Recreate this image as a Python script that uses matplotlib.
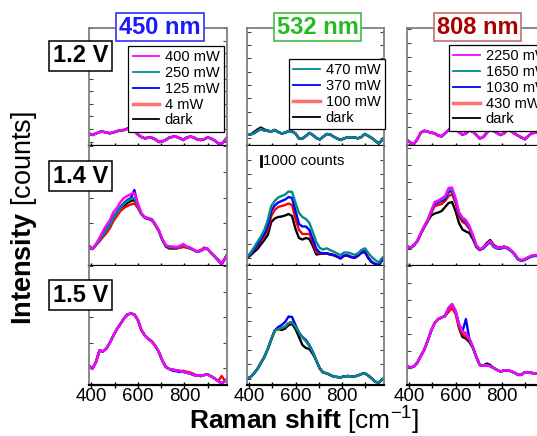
import numpy as np
import matplotlib
matplotlib.use('Agg')
import matplotlib.pyplot as plt
from matplotlib.ticker import FixedLocator

plt.rcParams['font.family'] = ['Liberation Sans', 'DejaVu Sans']
plt.rcParams['mathtext.fontset'] = 'custom'
plt.rcParams['mathtext.rm'] = 'Liberation Sans'
plt.rcParams['mathtext.bf'] = 'Liberation Sans:bold'
plt.rcParams['mathtext.it'] = 'Liberation Sans:italic'

# ---------------- data ----------------
raman_shift = np.arange(390, 991, 15)   # cm^-1 sample positions

lasers = ['450 nm', '532 nm', '808 nm']
voltages = ['1.2 V', '1.4 V', '1.5 V']
powers = {
    '450 nm': ['400 mW', '250 mW', '125 mW', '4 mW', 'dark'],
    '532 nm': ['470 mW', '370 mW', '100 mW', 'dark'],
    '808 nm': ['2250 mW', '1650 mW', '1030 mW', '430 mW', 'dark'],
}
series_colors = {
    '450 nm': ['#ff00ff', '#008b8b', '#0000ff', '#ff0000', '#000000'],
    '532 nm': ['#008b8b', '#0000ff', '#ff0000', '#000000'],
    '808 nm': ['#ff00ff', '#008b8b', '#0000ff', '#ff0000', '#000000'],
}

# 1.2 V (all powers overlap)
r1_450 = [1250,1100,1250,1400,1430,1330,1280,1360,1480,1560,1600,1730,1730,1500,1150,900,770,830,820,670,
          400,450,620,840,920,920,780,600,850,930,870,650,600,680,850,750,550,280,200,600,1000]
r1_532 = [1100,1150,1280,1500,1700,1550,1500,1450,1600,1400,1250,1330,1500,1450,1250,750,750,1000,1300,1100,
          800,650,930,1200,1150,930,750,600,750,870,870,850,770,900,1200,1000,800,530,250,600,1000]
r1_532_dark = [1100,1150,1400,1650,1850,1650,1550,1450,1600,1400,1250,1330,1500,1450,1250,750,750,1000,1300,1100,
               800,650,930,1200,1150,930,750,600,750,870,870,850,770,900,1200,1000,800,530,250,600,1000]
r1_808 = [600,320,200,700,1350,1520,1430,1330,1270,1030,970,1270,1600,1800,1680,1400,1130,1270,1550,1450,
          1100,750,900,1300,1700,1500,1300,1100,1270,1650,1500,1250,1050,850,680,1000,1280,1330,1350,1300,1250]

# 1.4 V
r2_450_400 = [2000,1700,2200,2800,3500,4100,4600,5400,5800,6400,6800,7000,7200,7300,6300,5300,4900,4800,4700,4200,
              3600,2700,2100,1950,1950,1900,2000,2200,1950,1850,1650,1450,1550,1750,1750,1350,1000,600,200,800,1400]
r2_450_250 = [2000,1700,2150,2600,3100,3600,4100,4800,5300,5800,6200,6500,6700,6800,6000,5200,4850,4750,4650,4150,
              3550,2650,2050,1900,1900,1850,1950,2100,1900,1800,1600,1450,1550,1750,1700,1300,950,600,220,800,1400]
r2_450_125 = [2000,1700,2150,2700,3200,3700,4200,4900,5400,5900,6300,6600,6800,7600,6100,5200,4850,4750,4650,4150,
              3550,2650,2050,1900,1900,1850,1950,2150,1900,1800,1600,1400,1500,1700,1700,1300,950,550,150,750,1400]
r2_450_4 = [2000,1700,2100,2500,2900,3300,3800,4500,5000,5500,5800,6000,6150,6250,5800,5200,4850,4750,4650,4100,
            3500,2600,2050,1850,1850,1800,1800,1900,1850,1750,1600,1450,1600,1850,1700,1300,950,600,250,800,1400]
r2_450_dark = [2000,1700,2100,2500,2950,3400,3900,4600,5100,5600,6000,6300,6500,6600,5900,5200,4800,4700,4600,4100,
               3500,2600,1950,1750,1750,1750,1850,2000,1850,1750,1600,1450,1550,1750,1700,1300,950,600,220,800,1400]

r2_532_470 = [950,1300,1850,2400,2950,3600,4600,6000,6500,6850,7000,7150,7450,7400,6300,5300,4900,4700,4300,3400,
              2400,1800,1650,1770,1600,1430,1250,1100,1350,1350,1250,1120,1250,1600,1770,1300,900,600,350,800,1100]
r2_532_370 = [900,1150,1700,2100,2650,3200,4000,5500,6050,6350,6500,6650,6900,6800,5500,4200,3950,3950,3600,2700,
              1700,1350,1270,1270,1200,1100,950,770,1050,1050,900,800,1000,1300,1450,800,400,200,100,600,900]
r2_532_100 = [850,1100,1650,2000,2500,3000,3600,5000,5600,5900,6000,6100,6250,6100,4700,3600,3200,3200,3200,2400,
              1400,1270,1270,1270,1150,1100,950,770,1050,1050,930,850,1100,1500,1600,800,400,200,100,600,900]
r2_532_dark = [800,1050,1400,1700,2150,2600,3100,4400,4750,4900,4950,5050,5200,5000,3700,2800,2650,2800,2700,2000,
               1150,1200,1250,1250,1130,1080,930,750,1030,1030,900,820,1050,1350,1400,800,400,200,100,600,900]

r2_808_2250 = [2000,1800,2100,2550,3300,4000,4650,5550,6400,6550,6750,7000,7800,7850,6800,5400,4850,4600,4000,3100,
               2100,1700,1850,2200,2500,2000,1850,1820,1930,1850,1600,1270,750,600,700,900,1050,1100,1100,1100,1100]
r2_808_1650 = [2000,1800,2100,2550,3300,4000,4600,5500,6300,6450,6650,6850,7600,7650,6700,5300,4750,4500,3900,3050,
               2050,1650,1800,2150,2450,1950,1800,1780,1900,1800,1550,1200,700,550,650,850,1000,1050,1050,1050,1050]
r2_808_1030 = [2000,1800,2100,2500,3250,3950,4550,5450,6200,6350,6500,6700,7400,7500,6600,5200,4650,4400,3850,3000,
               2000,1600,1750,2100,2400,1900,1750,1720,1850,1750,1500,1150,650,500,600,800,950,1000,1000,1000,1000]
r2_808_430 = [2000,1800,2100,2500,3250,3900,4500,5300,6000,6100,6200,6500,7000,7200,6300,5000,4400,4200,3700,2950,
              2000,1650,1800,2150,2450,1950,1800,1780,1900,1800,1550,1200,700,550,650,850,1000,1050,1050,1050,1050]
r2_808_dark = [1950,1750,2050,2500,3250,3900,4500,5050,5250,5350,5500,5900,6300,6400,5500,4300,3650,3450,3300,2700,
               1900,1600,1850,2300,2600,2100,1900,1850,1950,1850,1550,1200,700,550,650,850,1000,1050,1050,1050,1050]

# 1.5 V
r3_450_400 = [1900,1650,2300,3450,3350,3650,4250,4950,5600,6100,6650,7050,7150,7050,6500,5500,4950,4600,4350,3900,
              3300,2450,1800,1600,1520,1470,1400,1320,1230,1150,1000,950,900,1000,1050,870,650,400,180,400,700]
r3_450_250 = [1900,1650,2300,3450,3350,3650,4250,4950,5600,6100,6650,7050,7150,7050,6500,5500,4950,4600,4350,3900,
              3300,2450,1800,1600,1520,1470,1400,1320,1230,1150,1000,950,900,1000,1050,870,650,400,180,400,700]
r3_450_125 = [1900,1650,2300,3450,3350,3650,4250,4950,5600,6100,6650,7050,7150,7050,6500,5500,4950,4600,4350,3900,
              3300,2450,1800,1600,1420,1370,1300,1320,1230,1150,1000,950,900,1000,1050,870,650,400,180,400,700]
r3_450_4 = [1900,1650,2300,3450,3350,3650,4250,4950,5600,6100,6650,7050,7150,7050,6500,5500,4950,4600,4350,3900,
            3300,2450,1800,1600,1520,1470,1400,1420,1330,1250,1100,950,900,1000,1050,870,650,400,900,400,700]
r3_450_dark = [1900,1650,2300,3450,3350,3650,4250,4950,5600,6100,6650,7050,7150,7050,6500,5500,4950,4600,4350,3900,
               3300,2450,1800,1600,1520,1470,1400,1320,1230,1150,1000,950,900,1000,1050,870,650,400,180,400,700]

r3_532_470 = [670,790,1150,1600,2200,2800,3600,4550,5450,5600,5700,5830,6200,6250,5850,5250,4750,4400,3900,3300,
              2450,1650,1250,1170,1000,830,800,770,850,900,860,850,950,1100,1170,950,650,320,250,550,800]
r3_532_370 = [670,790,1150,1600,2200,2800,3600,4550,5450,5800,6000,6300,6850,6800,6000,5200,4800,4500,4000,3300,
              2450,1650,1250,1170,1000,830,800,770,850,900,860,850,950,1100,1170,950,650,320,250,550,800]
r3_532_100 = [670,790,1150,1600,2200,2800,3600,4550,5450,5600,5700,5830,6200,6300,5900,5250,4750,4400,3900,3300,
              2450,1650,1250,1170,1000,830,800,770,850,900,860,850,950,1100,1170,950,650,320,250,550,800]
r3_532_dark = [670,790,1150,1600,2200,2800,3600,4550,5450,5600,5500,5650,6000,6100,5600,4800,4000,3700,3600,3100,
               2450,1650,1250,1170,1000,830,800,770,850,900,860,850,950,1100,1170,950,650,320,250,550,800]

r3_808_2250 = [1900,1750,1850,2250,2900,3550,4450,5450,6200,6600,6750,6900,7700,8100,7400,6100,5350,5180,4600,3800,
               2800,2000,1950,1980,1880,1700,1500,1350,1450,1470,1380,1230,1050,1050,1280,1280,1200,1170,1150,1150,1150]
r3_808_1650 = [1900,1750,1850,2250,2900,3550,4450,5450,6200,6600,6750,6900,7650,8000,7400,6100,5350,5180,4600,3800,
               2800,2000,1950,1980,1880,1700,1500,1350,1450,1470,1380,1230,1050,1050,1280,1280,1200,1170,1150,1150,1150]
r3_808_1030 = [1900,1750,1850,2250,2900,3550,4450,5450,6200,6600,6750,6900,7700,8100,7400,6100,5350,6600,4600,3800,
               2800,2000,1950,1980,1880,1700,1500,1350,1450,1470,1380,1230,1000,1000,1280,1280,1200,1170,1150,1150,1150]
r3_808_430 = [1900,1750,1850,2250,2900,3550,4450,5450,6200,6600,6750,6900,7300,7700,7100,5800,5100,4800,4600,3800,
              2800,2000,1950,1980,1880,1700,1500,1350,1450,1470,1380,1230,1050,1050,1280,1280,1200,1170,1150,1150,1150]
r3_808_dark = [1900,1750,1850,2250,2900,3550,4450,5450,6200,6600,6750,6900,7700,7900,7400,5700,4800,4650,4300,3700,
               2800,2000,1950,2150,2000,1700,1500,1350,1450,1470,1380,1230,1050,1050,1280,1280,1200,1170,1150,1150,1150]

data = [
    [[r1_450, r1_450, r1_450, r1_450, r1_450],
     [r1_532, r1_532, r1_532, r1_532_dark],
     [r1_808, r1_808, r1_808, r1_808, r1_808]],
    [[r2_450_400, r2_450_250, r2_450_125, r2_450_4, r2_450_dark],
     [r2_532_470, r2_532_370, r2_532_100, r2_532_dark],
     [r2_808_2250, r2_808_1650, r2_808_1030, r2_808_430, r2_808_dark]],
    [[r3_450_400, r3_450_250, r3_450_125, r3_450_4, r3_450_dark],
     [r3_532_470, r3_532_370, r3_532_100, r3_532_dark],
     [r3_808_2250, r3_808_1650, r3_808_1030, r3_808_430, r3_808_dark]],
]
scale_bar_counts = 1000

# ---------------- layout ----------------
W, H = 537, 436
col_left = [89, 247, 407]
col_w = [138, 137, 137]
row_top = [28, 146, 266]
row_h = [118, 120, 119]
ylim_top = [11800, 12000, 11900]
ytick_cfg = {(0, 0): (430, 1260), (0, 1): (770, 1330), (0, 2): (540, 1390),
             (1, 0): (1700, 2570), (1, 1): (770, 1410), (1, 2): (1670, 1680),
             (2, 0): (1670, 2550), (2, 1): (640, 1430), (2, 2): (1670, 1700)}
legend_anchor = [('upper right', (0.978, 0.847)),
                 ('upper right', (1.005, 0.737)),
                 ('upper left', (0.307, 0.856))]

fig = plt.figure(figsize=(W / 100, H / 100), dpi=100)

for r in range(3):
    for c in range(3):
        ax = fig.add_axes([col_left[c] / W, 1 - (row_top[r] + row_h[r]) / H,
                           col_w[c] / W, row_h[r] / H])
        laser = lasers[c]
        labs = powers[laser]
        cols = series_colors[laser]
        lines = {}
        for i in reversed(range(len(labs))):
            ln, = ax.plot(raman_shift, data[r][c][i], color=cols[i], lw=1.7,
                          solid_joinstyle='round')
            lines[i] = ln
        ax.set_xlim(390, 983)
        ax.set_ylim(0, ylim_top[r])

        ax.xaxis.set_major_locator(FixedLocator([400, 600, 800]))
        ax.xaxis.set_minor_locator(FixedLocator([500, 700, 900]))
        ax.tick_params(axis='x', which='both', direction='inout', length=5, width=1,
                       bottom=True, top=False, labelbottom=(r == 2),
                       labelsize=13.5, pad=0)
        off, step = ytick_cfg[(r, c)]
        ax.set_yticks(np.arange(off, ylim_top[r], step))
        ax.tick_params(axis='y', which='both', direction='in', length=3, width=0.8,
                       left=True, right=True, labelleft=False, color='#444444')
        for s in ['left', 'right', 'top']:
            ax.spines[s].set_color('#808080')
            ax.spines[s].set_linewidth(1.3)
        ax.spines['bottom'].set_color('black')
        ax.spines['bottom'].set_linewidth(1.6)
        if r > 0:
            ax.spines['top'].set_visible(False)

        if r == 0:
            loc, anchor = legend_anchor[c]
            handles = [lines[i] for i in range(len(labs))]
            leg = ax.legend(handles, labs, loc=loc, bbox_to_anchor=anchor,
                            bbox_transform=ax.transAxes, fontsize=10.5,
                            frameon=True, fancybox=False, edgecolor='black',
                            framealpha=1, borderpad=0.3, labelspacing=0.12,
                            handlelength=1.8, handletextpad=0.4, borderaxespad=0)
            leg.get_frame().set_linewidth(0.9)
            for lh, col in zip(leg.get_lines(), cols):
                if col == '#ff0000':
                    lh.set_color('#ff7070')
                    lh.set_linewidth(2.5)
                else:
                    lh.set_linewidth(1.3)

        if r == 1 and c == 1:
            ax.plot([449, 449], [10000, 10000 + scale_bar_counts], color='black', lw=2)
            ax.text(459, 10000 + scale_bar_counts / 2, '%d counts' % scale_bar_counts,
                    fontsize=10.7, ha='left', va='center')

# laser titles
title_style = [('#1a1aff', '#3030ff'), ('#22bb22', '#44bb44'), ('#aa0000', '#c07070')]
title_x = [160, 317.5, 477.5]
for c in range(3):
    tc, ec = title_style[c]
    fig.text(title_x[c] / W, 1 - 27 / H, lasers[c], fontsize=17, fontweight='bold',
             color=tc, ha='center', va='center', zorder=10,
             bbox=dict(boxstyle='square,pad=0.12', fc='white', ec=ec, lw=1.2))

# voltage labels
volt_y = [56, 176, 295]
for r in range(3):
    fig.text(80.5 / W, 1 - volt_y[r] / H, voltages[r], fontsize=17, fontweight='bold',
             ha='center', va='center', zorder=10,
             bbox=dict(boxstyle='square,pad=0.15', fc='white', ec='black', lw=1.1))

fig.text(24 / W, 1 - 218 / H, r'$\mathbf{Intensity}$ [counts]', rotation=90,
         fontsize=19.5, ha='center', va='center')
fig.text(304 / W, 1 - 430 / H, r'$\mathbf{Raman\ shift}$ [cm$^{-1}$]',
         fontsize=19, ha='center', va='baseline')

fig.savefig('out.png', dpi=100)
